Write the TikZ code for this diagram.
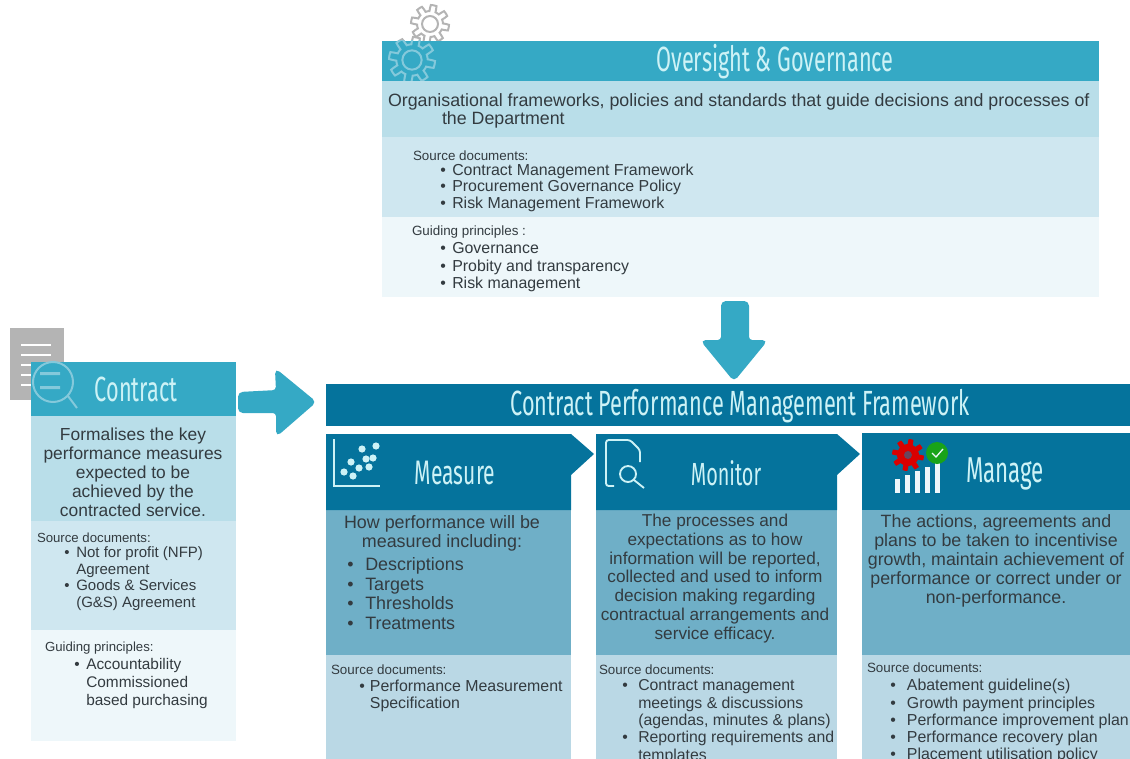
\documentclass[tikz,border=0pt]{standalone}
\usepackage{fontspec}
\setmainfont{Liberation Sans}
\newfontfamily\condfont[FakeStretch=0.62]{Fira Sans}
\definecolor{tealhead}{HTML}{35A9C5}
\definecolor{darkhead}{HTML}{05739C}
\definecolor{paleA}{HTML}{B9DEE9}
\definecolor{paleB}{HTML}{CFE7F0}
\definecolor{paleC}{HTML}{EEF7FA}
\definecolor{midblue}{HTML}{6FAFC7}
\definecolor{lowblue}{HTML}{BAD8E5}
\definecolor{ink}{HTML}{333B40}
\definecolor{headtext}{HTML}{CDF2F6}
\definecolor{greyicon}{HTML}{B4B4B4}
\newcommand{\pxs}[2]{\fontsize{\fpeval{#1*0.75}}{\fpeval{#2*0.75}}\selectfont}
\newcommand{\bw}[2]{\makebox[#1][l]{•}#2}
\newcommand{\gearicon}[4]{%
  \draw[#4,line width=1.5pt,shift={(#1,#2)}] plot[domain=0:360,samples=145] (\x:{#3*(0.84+0.16*sign(sin(8*\x)))}) -- cycle;
  \draw[#4,line width=1.5pt,shift={(#1,#2)}] (0,0) circle[x radius=#3*0.42,y radius=#3*0.42];}
\tikzset{
  txt/.style={inner sep=0pt,outer sep=0pt,text=ink,font=\pxs{#1}{#1}},
  head/.style={inner sep=0pt,text=headtext,font=\condfont\pxs{#1}{#1}},
  blockarrow/.style={fill=tealhead,draw=tealhead,line width=1.5pt,rounded corners=3pt},
}
\begin{document}
\begin{tikzpicture}[x=0.75pt,y=-0.75pt]
\useasboundingbox (0,0) rectangle (1130,759);
\begin{scope}
\clip (0,0) rectangle (1130,759);
% oversight panel
\gearicon{430}{24}{19}{greyicon}
\gearicon{412}{60}{23}{greyicon}
\fill[tealhead] (382,41) rectangle (1099,81);
\fill[paleA] (382,81) rectangle (1099,137);
\fill[paleB] (382,137) rectangle (1099,217);
\fill[paleC] (382,217) rectangle (1099,297);
\begin{scope}
\clip (382,41) rectangle (1099,81);
\gearicon{412}{60}{23}{paleA!60!tealhead}
\end{scope}
\node[head=35] (oversight) at (775,62) {Oversight \& Governance};
\node[txt=17.8,anchor=west] (ovA) at (388,101.5) {Organisational frameworks, policies and standards that guide decisions and processes of};
\node[txt=17.8,anchor=west] (ovB) at (442,119.5) {the Department};
\node[txt=13.4,anchor=west] (ovC) at (413,155.5) {Source documents:};
\node[anchor=west,inner sep=0pt,text=ink,align=left,font=\pxs{15.9}{16.5}] (ovD) at (440,187.5) {\bw{9pt}{Contract Management Framework}\\\bw{9pt}{Procurement Governance Policy}\\\bw{9pt}{Risk Management Framework}};
\node[txt=13.4,anchor=west] (ovE) at (412,232.5) {Guiding principles :};
\node[anchor=west,inner sep=0pt,text=ink,align=left,font=\pxs{15.9}{17.5}] (ovF) at (440,267.5) {\bw{9pt}{Governance}\\\bw{9pt}{Probity and transparency}\\\bw{9pt}{Risk management}};
% down arrow
\draw[blockarrow] (722,302) -- (748,302) -- (748,341) -- (766,341) -- (734,380) -- (702,341) -- (722,341) -- cycle;
% contract panel
\fill[greyicon] (10,328) rectangle (64,400);
\foreach \yy in {345,355,365,375,385}{\fill[white] (21,\yy-1) rectangle (51,\yy+1);}
\fill[tealhead] (31,362) rectangle (236,416);
\fill[paleA] (31,416) rectangle (236,521);
\fill[paleB] (31,521) rectangle (236,630);
\fill[paleC] (31,630) rectangle (236,741);
\draw[paleA!60!tealhead,line width=1.5pt] (53,382) circle[x radius=20,y radius=20] (68,396) -- (77,408);
\fill[paleA!60!tealhead] (40,372) rectangle (60,375) (40,386) rectangle (60,389);
\node[head=35] (contract) at (136,389) {Contract};
\node[align=center,inner sep=0pt,text=ink,font=\pxs{17.4}{18.9}] (coA) at (133,472.5) {Formalises the key\\performance measures\\expected to be\\achieved by the\\contracted service.};
\node[txt=13.2,anchor=west] (coB) at (37,537.5) {Source documents:};
\node[anchor=west,inner sep=0pt,text=ink,align=left,font=\pxs{15}{16.7}] (coC) at (64,578.5) {\bw{9pt}{Not for profit (NFP)}\\\makebox[9pt]{}Agreement\\\bw{9pt}{Goods \& Services}\\\makebox[9pt]{}(G\&S) Agreement};
\node[txt=13.2,anchor=west] (coD) at (45,648.5) {Guiding principles:};
\node[anchor=west,inner sep=0pt,text=ink,align=left,font=\pxs{15.4}{17.6}] (coE) at (74,683.5) {\bw{9pt}{Accountability}\\\makebox[9pt]{}Commissioned\\\makebox[9pt]{}based purchasing};
% right arrow
\draw[blockarrow] (239,393) -- (277,391) -- (276,370) -- (315,402) -- (277,435) -- (277,412) -- (239,412) -- cycle;
% framework bar
\fill[darkhead] (326,384) rectangle (1130,426);
\node[head=35] (framework) at (740,406) {Contract Performance Management Framework};
% measure
\fill[midblue] (326,510) rectangle (571,655);
\fill[lowblue] (326,655) rectangle (571,759);
\fill[darkhead] (326,434) -- (571,434) -- (594,454) -- (571,475) -- (571,510) -- (326,510) -- cycle;
\draw[headtext,line width=1.2pt] (334,439) -- (334,486) -- (380,486);
\foreach \dx/\dy in {344/472,353/476,359/468,351/462,366/459,362/449,376/446,373/458,369/467}{\fill[headtext] (\dx,\dy) circle[x radius=3.6,y radius=3.6];}
\node[head=34] (measure) at (455,473) {Measure};
\node[align=center,inner sep=0pt,text=ink,font=\pxs{17.9}{19}] (meA) at (442,533) {How performance will be\\measured including:};
\node[anchor=west,inner sep=0pt,text=ink,align=left,font=\pxs{17.9}{19.4}] (meB) at (347,593.5) {\makebox[13.5pt][l]{•}Descriptions\\\makebox[13.5pt][l]{•}Targets\\\makebox[13.5pt][l]{•}Thresholds\\\makebox[13.5pt][l]{•}Treatments};
\node[txt=13.4,anchor=west] (meC) at (331,669.5) {Source documents:};
\node[anchor=west,inner sep=0pt,text=ink,align=left,font=\pxs{15.9}{17}] (meD) at (359,695.5) {\bw{8pt}{Performance Measurement}\\\makebox[8pt]{}Specification};
% monitor
\fill[midblue] (596,510) rectangle (837,655);
\fill[lowblue] (596,655) rectangle (837,759);
\fill[darkhead] (596,434) -- (837,434) -- (860,454) -- (837,475) -- (837,510) -- (596,510) -- cycle;
\draw[headtext,line width=1.4pt,rounded corners=2pt] (614,486) -- (606,486) -- (606,440) -- (630,440) -- (640,450) -- (640,462);
\draw[headtext,line width=1.4pt] (628,474) circle[x radius=8,y radius=8] (634,480) -- (644,488);
\node[head=32] (monitor) at (726,473) {Monitor};
\node[align=center,inner sep=0pt,text=ink,font=\pxs{17.2}{18.8}] (moA) at (715,578.5) {The processes and\\expectations as to how\\information will be reported,\\collected and used to inform\\decision making regarding\\contractual arrangements and\\service efficacy.};
\node[txt=13.4,anchor=west] (moB) at (599,669.5) {Source documents:};
\node[anchor=north west,inner sep=0pt,text=ink,align=left,font=\pxs{15.8}{17.3}] (moC) at (622,679.5) {\bw{12pt}{Contract management}\\\makebox[12pt]{}meetings \& discussions\\\makebox[12pt]{}(agendas, minutes \& plans)\\\bw{12pt}{Reporting requirements and}\\\makebox[12pt]{}templates};
% manage
\fill[darkhead] (862,433) rectangle (1130,510);
\fill[midblue] (862,510) rectangle (1130,655);
\fill[lowblue] (862,655) rectangle (1130,759);
\foreach \xx/\hh in {897/14,907/18,917/22,927/26,937/30}{\fill[paleC] (\xx-2.5,493) rectangle (\xx+2.5,493-\hh);}
\fill[red!85!black,shift={(908,455)}] plot[domain=0:360,samples=145] (\x:{16*(0.84+0.16*sign(sin(8*\x)))}) -- cycle;
\fill[darkhead!60!red] (908,455) circle[x radius=4,y radius=4];
\fill[green!60!black!90] (937,453) circle[x radius=11,y radius=11];
\draw[paleC,line width=1pt] (932,453) -- (936,457) -- (943,449);
\node[head=36] (manage) at (1005,474) {Manage};
\node[align=center,inner sep=0pt,text=ink,font=\pxs{17.8}{19}] (maA) at (996,561) {The actions, agreements and\\plans to be taken to incentivise\\growth, maintain achievement of\\performance or correct under or\\non-performance.};
\node[txt=13.4,anchor=west] (maB) at (867,667.5) {Source documents:};
\node[anchor=north west,inner sep=0pt,text=ink,align=left,font=\pxs{15.9}{17.3}] (maC) at (890,679) {\bw{12.5pt}{Abatement guideline(s)}\\\bw{12.5pt}{Growth payment principles}\\\bw{12.5pt}{Performance improvement plan}\\\bw{12.5pt}{Performance recovery plan}\\\bw{12.5pt}{Placement utilisation policy}};
\end{scope}
\end{tikzpicture}
\end{document}
